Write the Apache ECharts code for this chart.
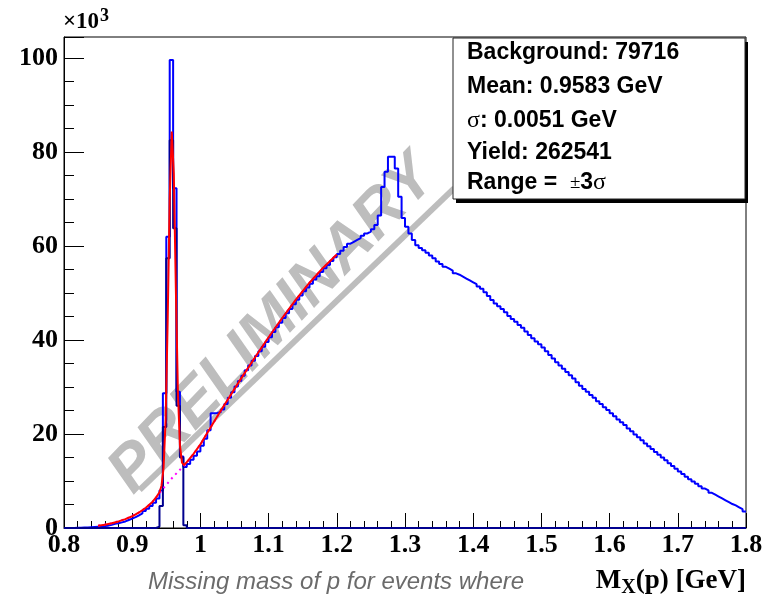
<!DOCTYPE html>
<html><head><meta charset="utf-8">
<script src="https://cdn.jsdelivr.net/npm/echarts/dist/echarts.min.js"></script>
<style>html,body{margin:0;padding:0;background:#fff}#c{width:769px;height:601px}</style>
</head><body><div id="c"></div>
<script>
// Histogram binning (GeV)
const binStart = 0.8;
const binWidth = 0.005;
// All events, counts in units of 10^3 per bin (0.800 ... 1.795)
const allEvents = [
  0.0,0.0,0.0,0.05,0.05,0.1,0.1,0.15,0.2,0.25,
  0.3,0.4,0.5,0.7,0.9,1.0,1.2,1.4,1.7,2.0,
  2.3,2.7,3.1,3.6,4.1,4.7,5.4,6.3,8.0,28.7,
  62.0,99.6,72.3,29.0,15.2,13.0,13.6,14.5,15.4,16.3,
  17.5,19.0,20.8,24.4,24.5,24.7,25.2,26.4,27.7,28.9,
  30.1,31.3,32.4,33.6,34.6,35.6,36.6,37.6,38.6,39.6,
  40.6,41.7,42.7,43.7,44.7,45.7,46.6,47.6,48.6,49.5,
  50.4,51.2,52.0,52.9,53.6,54.5,55.3,56.0,56.8,57.6,
  58.3,59.0,59.8,60.5,60.9,61.3,61.7,62.2,62.7,63.1,
  63.6,64.5,66.5,72.6,75.8,79.0,79.0,76.5,70.5,66.0,
  64.1,62.7,61.3,60.2,59.6,59.1,58.6,58.0,57.4,56.7,
  56.2,55.6,55.2,54.8,54.2,53.9,53.5,53.1,52.7,52.3,
  51.9,51.4,50.9,50.2,49.4,48.5,47.8,47.2,46.6,45.9,
  45.1,44.5,43.9,43.2,42.6,41.8,41.1,40.4,39.7,39.1,
  38.4,37.6,36.8,36.1,35.3,34.6,33.9,33.2,32.5,31.8,
  31.0,30.3,29.6,29.0,28.3,27.7,27.0,26.4,25.7,25.1,
  24.4,23.8,23.1,22.5,21.9,21.2,20.6,19.9,19.3,18.7,
  18.0,17.4,16.8,16.2,15.6,15.0,14.4,13.8,13.2,12.6,
  12.0,11.5,10.9,10.4,9.9,9.4,8.9,8.4,8.0,7.5,
  7.1,6.7,6.3,5.9,5.5,5.1,4.8,4.4,4.0,3.5
];
// Selected events (dark histogram), non-zero bins only, keyed by bin index
const peakBinIndex = [27, 28, 29, 30, 31, 32, 33, 34, 35];
const peakBinValue = [0.3, 4.7, 21.5, 57.4, 82.5, 63.8, 26.0, 15.0, 0.6];
// Fit (Gaussian + background)
const fitX = [0.85,0.86,0.87,0.88,0.89,0.90,0.91,0.92,0.93,0.935,0.94,0.943,0.946,0.949,0.952,0.955,0.958,0.961,0.964,0.967,0.970,0.973,0.976,0.98,0.99,1.00,1.01,1.02,1.03,1.04,1.06,1.08,1.10,1.12,1.14,1.16,1.18,1.20];
const fitY = [0.5,0.7,1.0,1.4,1.9,2.5,3.3,4.3,5.6,6.5,7.6,9.0,12.8,23.0,44.0,70.0,84.4,75.4,51.0,29.1,17.6,13.9,13.4,14.0,15.8,17.8,20.2,22.6,25.0,27.3,31.9,36.3,40.6,44.7,48.6,52.2,55.4,58.2];
// Background component (magenta dotted)
const bgX = [0.85,0.87,0.89,0.91,0.92,0.93,0.94,0.95,0.96,0.97,0.98,0.99,1.00,1.02,1.04,1.06,1.08,1.10,1.12,1.14,1.16,1.18,1.20];
const bgY = [0.5,1.0,1.9,3.3,4.3,5.6,7.4,9.2,10.9,12.4,13.9,15.8,17.8,22.6,27.3,31.9,36.3,40.6,44.7,48.6,52.2,55.4,58.2];
// Axis settings
const xMin = 0.8, xMax = 1.8, xStep = 0.1;
const yMin = 0, yMax = 104.5, yStep = 20, yMinorStep = 5;
// Stats box lines
const statLines = [
  '{b|Background: 79716}',
  '{b|Mean: 0.9583 GeV}',
  '{s|σ}{b|: 0.0051 GeV}',
  '{b|Yield: 262541}',
  '{b|Range =  }{pm|±}{b|3}{s|σ}'
];

function histPoints(vals) {
  const pts = vals.map((v, i) => [binStart + i * binWidth, v]);
  pts.push([binStart + vals.length * binWidth, vals[vals.length - 1]]);
  return pts;
}
const peakEvents = allEvents.map(() => 0);
peakBinIndex.forEach((idx, k) => { peakEvents[idx] = peakBinValue[k]; });

const serif = '"Liberation Serif", "Times New Roman", serif';
const sans = '"Liberation Sans", Arial, Helvetica, sans-serif';

const chart = echarts.init(document.getElementById('c'), null, {renderer: 'canvas'});
const statRich = {
  b: {fontFamily: sans, fontWeight: 'bold', fontSize: 23, color: '#000'},
  s: {fontFamily: serif, fontSize: 24, color: '#000'},
  pm: {fontFamily: serif, fontSize: 19, color: '#000'}
};
const statY = [52.5, 87, 120.5, 153, 183];

const graphics = [
  {
    type: 'text', x: 273, y: 325, rotation: 46 * Math.PI / 180, z: -10, silent: true,
    style: {text: 'PRELIMINARY', font: 'italic bold 64px ' + sans, fill: '#bdbdbd', align: 'center', verticalAlign: 'middle'}
  },
  {
    type: 'rect', x: 297, y: 339, rotation: 43.8 * Math.PI / 180, z: -10, silent: true,
    shape: {x: -218, y: -3, width: 436, height: 6}, style: {fill: '#bdbdbd'}
  },
  {type: 'rect', z: 50, shape: {x: 456, y: 42, width: 292, height: 161}, style: {fill: '#000'}},
  {type: 'rect', z: 51, shape: {x: 453, y: 38, width: 292, height: 161}, style: {fill: '#fff', stroke: '#222', lineWidth: 1}},
  {type: 'text', z: 60, x: 63, y: 34, style: {text: '×10', font: 'bold 23px ' + serif, fill: '#000', align: 'left', verticalAlign: 'bottom'}},
  {type: 'text', z: 60, x: 100, y: 25, style: {text: '3', font: 'bold 18px ' + serif, fill: '#000', align: 'left', verticalAlign: 'bottom'}},
  {type: 'text', z: 60, x: 148, y: 582, style: {text: 'Missing mass of p for events where', font: 'italic 24px ' + sans, fill: '#6b6b6b', align: 'left', verticalAlign: 'middle'}},
  {type: 'text', z: 60, x: 746, y: 581, style: {
    text: '{m|M}{x|X}{m|(p) [GeV]}', align: 'right', verticalAlign: 'middle',
    rich: {
      m: {fontFamily: serif, fontWeight: 'bold', fontSize: 27, color: '#000'},
      x: {fontFamily: serif, fontWeight: 'bold', fontSize: 20, color: '#000', padding: [13, 0, 0, 0]}
    }
  }}
];
statLines.forEach((t, i) => {
  graphics.push({type: 'text', z: 60, x: 467, y: statY[i], style: {text: t, rich: statRich, align: 'left', verticalAlign: 'middle'}});
});

const option = {
  animation: false,
  backgroundColor: '#fff',
  grid: {left: 64, right: 23, top: 37, bottom: 73, show: true, borderColor: '#000', borderWidth: 1, backgroundColor: 'transparent'},
  xAxis: {
    type: 'value', min: xMin, max: xMax, interval: xStep,
    axisLine: {show: true, lineStyle: {color: '#000', width: 1}},
    axisTick: {show: true, inside: true, length: 15, lineStyle: {color: '#000', width: 1}},
    minorTick: {show: true, splitNumber: 5, length: 7, lineStyle: {color: '#000', width: 1}},
    splitLine: {show: false},
    axisLabel: {margin: 4, fontFamily: serif, fontWeight: 'bold', fontSize: 26, color: '#000',
      formatter: v => String(+(+v).toFixed(1))}
  },
  yAxis: [{
    type: 'value', min: yMin, max: yMax, interval: yStep,
    axisLine: {show: true, lineStyle: {color: '#000', width: 1}},
    axisTick: {show: true, inside: true, length: 20, lineStyle: {color: '#000', width: 1}},
    splitLine: {show: false},
    axisLabel: {margin: 6, fontFamily: serif, fontWeight: 'bold', fontSize: 26, color: '#000',
      formatter: v => (Math.abs(v / yStep - Math.round(v / yStep)) < 1e-6 ? String(Math.round(v)) : '')}
  }, {
    type: 'value', min: yMin, max: yMax, interval: yMinorStep, position: 'left',
    axisLine: {show: false},
    axisTick: {show: true, inside: true, length: 10, lineStyle: {color: '#000', width: 1}},
    splitLine: {show: false},
    axisLabel: {show: false}
  }],
  graphic: graphics,
  series: [
    {type: 'line', name: 'all', data: histPoints(allEvents), step: 'end', showSymbol: false, symbol: 'none',
      lineStyle: {color: '#0000ff', width: 2}, z: 2, clip: true},
    {type: 'line', name: 'peak', data: histPoints(peakEvents), step: 'end', showSymbol: false, symbol: 'none',
      lineStyle: {color: '#00008f', width: 2}, z: 3, clip: true},
    {type: 'line', name: 'bg', data: bgX.map((x, i) => [x, bgY[i]]), showSymbol: false, symbol: 'none',
      lineStyle: {color: '#ff00ff', width: 2, type: [2, 4]}, z: 4, clip: true},
    {type: 'line', name: 'fit', data: fitX.map((x, i) => [x, fitY[i]]), showSymbol: false, symbol: 'none',
      lineStyle: {color: '#ff0000', width: 2}, z: 5, clip: true}
  ]
};
chart.setOption(option);
</script>
</body></html>
